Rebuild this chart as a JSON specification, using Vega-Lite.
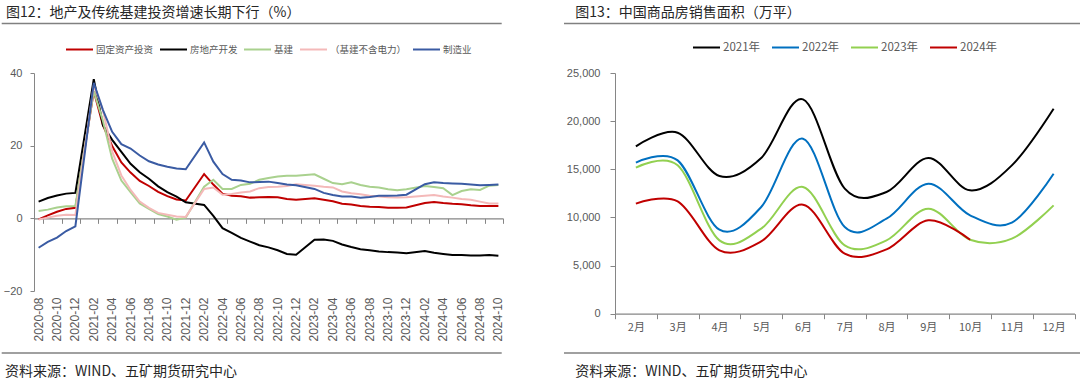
{
  "$schema": "https://vega.github.io/schema/vega-lite/v6.json",
  "background": "white",
  "padding": {"left": 0, "top": 6, "right": 0, "bottom": 0},
  "config": {
    "view": {"stroke": null},
    "font": "Noto Sans CJK SC",
    "legend": {"layout": {"top": {"anchor": "middle"}}}
  },
  "spacing": 8,
  "resolve": {"scale": {"color": "independent", "strokeWidth": "independent"}, "legend": {"color": "independent"}},
  "vconcat": [
    {
      "hconcat": [
        {
          "width": 467.7, "height": 1.5,
          "data": {"values": [{"start": 0, "end": 500, "v": 0}]},
          "mark": {"type": "rule", "color": "#808080", "strokeWidth": 1.5},
          "encoding": {
            "x": {"field": "start", "type": "quantitative", "scale": {"domain": [32.3, 500], "nice": false, "zero": false}, "axis": null},
            "x2": {"field": "end"},
            "y": {"field": "v", "type": "quantitative", "scale": {"domain": [0, 1]}, "axis": null}
          },
          "title": {"text": "图12：地产及传统基建投资增速长期下行（%）", "anchor": "start", "dx": 5, "offset": 2, "fontSize": 14, "fontWeight": "normal", "color": "#262626", "font": "Noto Sans CJK SC"}
        },
        {
          "width": 465, "height": 1.5,
          "data": {"values": [{"start": 0, "end": 520, "v": 0}]},
          "mark": {"type": "rule", "color": "#808080", "strokeWidth": 1.5},
          "encoding": {
            "x": {"field": "start", "type": "quantitative", "scale": {"domain": [55, 520], "nice": false, "zero": false}, "axis": null},
            "x2": {"field": "end"},
            "y": {"field": "v", "type": "quantitative", "scale": {"domain": [0, 1]}, "axis": null}
          },
          "title": {"text": "图13：中国商品房销售面积（万平）", "anchor": "start", "dx": 12, "offset": 2, "fontSize": 14, "fontWeight": "normal", "color": "#262626", "font": "Noto Sans CJK SC"}
        }
      ],
      "spacing": 60
    },
    {
      "hconcat": [
        {
          "width": 469, "height": 218,
          "data": {"values": [
            {"month": "2020-08", "固定资产投资": -0.3, "房地产开发": 4.6, "基建": 2.0, "（基建不含电力）": -0.3, "制造业": -8.1},
            {"month": "2020-09", "固定资产投资": 0.8, "房地产开发": 5.6, "基建": 2.4, "（基建不含电力）": 0.2, "制造业": -6.5},
            {"month": "2020-10", "固定资产投资": 1.8, "房地产开发": 6.3, "基建": 3.0, "（基建不含电力）": 0.7, "制造业": -5.3},
            {"month": "2020-11", "固定资产投资": 2.6, "房地产开发": 6.8, "基建": 3.3, "（基建不含电力）": 1.0, "制造业": -3.5},
            {"month": "2020-12", "固定资产投资": 2.9, "房地产开发": 7.0, "基建": 3.4, "（基建不含电力）": 0.9, "制造业": -2.2},
            {"month": "2021-02", "固定资产投资": 35.0, "房地产开发": 38.3, "基建": 35.0, "（基建不含电力）": 36.6, "制造业": 37.3},
            {"month": "2021-03", "固定资产投资": 25.6, "房地产开发": 25.6, "基建": 26.8, "（基建不含电力）": 29.7, "制造业": 29.8},
            {"month": "2021-04", "固定资产投资": 19.9, "房地产开发": 21.6, "基建": 16.4, "（基建不含电力）": 18.4, "制造业": 23.8},
            {"month": "2021-05", "固定资产投资": 15.4, "房地产开发": 18.3, "基建": 10.4, "（基建不含电力）": 11.8, "制造业": 20.4},
            {"month": "2021-06", "固定资产投资": 12.6, "房地产开发": 15.0, "基建": 7.2, "（基建不含电力）": 7.8, "制造业": 19.2},
            {"month": "2021-07", "固定资产投资": 10.3, "房地产开发": 12.7, "基建": 4.1, "（基建不含电力）": 4.6, "制造业": 17.3},
            {"month": "2021-08", "固定资产投资": 8.9, "房地产开发": 10.9, "基建": 2.6, "（基建不含电力）": 2.9, "制造业": 15.7},
            {"month": "2021-09", "固定资产投资": 7.3, "房地产开发": 8.8, "基建": 1.2, "（基建不含电力）": 1.5, "制造业": 14.8},
            {"month": "2021-10", "固定资产投资": 6.1, "房地产开发": 7.2, "基建": 0.5, "（基建不含电力）": 1.0, "制造业": 14.2},
            {"month": "2021-11", "固定资产投资": 5.2, "房地产开发": 6.0, "基建": -0.4, "（基建不含电力）": 0.5, "制造业": 13.7},
            {"month": "2021-12", "固定资产投资": 4.9, "房地产开发": 4.4, "基建": 0.2, "（基建不含电力）": 0.4, "制造业": 13.5},
            {"month": "2022-02", "固定资产投资": 12.2, "房地产开发": 3.7, "基建": 8.7, "（基建不含电力）": 8.1, "制造业": 20.9},
            {"month": "2022-03", "固定资产投资": 9.3, "房地产开发": 0.7, "基建": 10.6, "（基建不含电力）": 8.5, "制造业": 15.6},
            {"month": "2022-04", "固定资产投资": 6.8, "房地产开发": -2.7, "基建": 8.1, "（基建不含电力）": 6.5, "制造业": 12.2},
            {"month": "2022-05", "固定资产投资": 6.2, "房地产开发": -4.0, "基建": 8.1, "（基建不含电力）": 6.7, "制造业": 10.6},
            {"month": "2022-06", "固定资产投资": 6.1, "房地产开发": -5.4, "基建": 9.2, "（基建不含电力）": 7.1, "制造业": 10.4},
            {"month": "2022-07", "固定资产投资": 5.7, "房地产开发": -6.4, "基建": 9.5, "（基建不含电力）": 7.4, "制造业": 9.9},
            {"month": "2022-08", "固定资产投资": 5.8, "房地产开发": -7.4, "基建": 10.6, "（基建不含电力）": 8.3, "制造业": 10.0},
            {"month": "2022-09", "固定资产投资": 5.9, "房地产开发": -8.0, "基建": 11.1, "（基建不含电力）": 8.6, "制造业": 10.1},
            {"month": "2022-10", "固定资产投资": 5.8, "房地产开发": -8.8, "基建": 11.5, "（基建不含电力）": 8.7, "制造业": 9.7},
            {"month": "2022-11", "固定资产投资": 5.3, "房地产开发": -9.8, "基建": 11.7, "（基建不含电力）": 8.9, "制造业": 9.3},
            {"month": "2022-12", "固定资产投资": 5.1, "房地产开发": -10.0, "基建": 11.7, "（基建不含电力）": 9.4, "制造业": 9.1},
            {"month": "2023-02", "固定资产投资": 5.5, "房地产开发": -5.9, "基建": 12.1, "（基建不含电力）": 9.0, "制造业": 8.1},
            {"month": "2023-03", "固定资产投资": 5.1, "房地产开发": -5.8, "基建": 10.9, "（基建不含电力）": 8.7, "制造业": 7.0},
            {"month": "2023-04", "固定资产投资": 4.7, "房地产开发": -6.2, "基建": 9.7, "（基建不含电力）": 8.5, "制造业": 6.4},
            {"month": "2023-05", "固定资产投资": 4.0, "房地产开发": -7.2, "基建": 9.4, "（基建不含电力）": 7.4, "制造业": 6.0},
            {"month": "2023-06", "固定资产投资": 3.8, "房地产开发": -7.9, "基建": 9.9, "（基建不含电力）": 6.9, "制造业": 6.0},
            {"month": "2023-07", "固定资产投资": 3.4, "房地产开发": -8.5, "基建": 9.2, "（基建不含电力）": 6.6, "制造业": 5.7},
            {"month": "2023-08", "固定资产投资": 3.2, "房地产开发": -8.8, "基建": 8.7, "（基建不含电力）": 6.2, "制造业": 5.9},
            {"month": "2023-09", "固定资产投资": 3.1, "房地产开发": -9.1, "基建": 8.5, "（基建不含电力）": 6.0, "制造业": 6.2},
            {"month": "2023-10", "固定资产投资": 2.9, "房地产开发": -9.3, "基建": 8.0, "（基建不含电力）": 5.8, "制造业": 6.2},
            {"month": "2023-11", "固定资产投资": 2.9, "房地产开发": -9.4, "基建": 7.7, "（基建不含电力）": 5.7, "制造业": 6.3},
            {"month": "2023-12", "固定资产投资": 3.0, "房地产开发": -9.6, "基建": 8.0, "（基建不含电力）": 5.8, "制造业": 6.5},
            {"month": "2024-02", "固定资产投资": 4.2, "房地产开发": -9.0, "基建": 8.9, "（基建不含电力）": 6.2, "制造业": 9.4},
            {"month": "2024-03", "固定资产投资": 4.5, "房地产开发": -9.5, "基建": 8.6, "（基建不含电力）": 6.4, "制造业": 9.9},
            {"month": "2024-04", "固定资产投资": 4.2, "房地产开发": -9.8, "基建": 8.3, "（基建不含电力）": 6.0, "制造业": 9.7},
            {"month": "2024-05", "固定资产投资": 4.0, "房地产开发": -10.1, "基建": 6.4, "（基建不含电力）": 5.7, "制造业": 9.6},
            {"month": "2024-06", "固定资产投资": 3.9, "房地产开发": -10.1, "基建": 7.5, "（基建不含电力）": 5.3, "制造业": 9.5},
            {"month": "2024-07", "固定资产投资": 3.6, "房地产开发": -10.2, "基建": 8.0, "（基建不含电力）": 5.1, "制造业": 9.3},
            {"month": "2024-08", "固定资产投资": 3.4, "房地产开发": -10.2, "基建": 7.8, "（基建不含电力）": 4.6, "制造业": 9.1},
            {"month": "2024-09", "固定资产投资": 3.4, "房地产开发": -10.1, "基建": 9.0, "（基建不含电力）": 4.1, "制造业": 9.2},
            {"month": "2024-10", "固定资产投资": 3.4, "房地产开发": -10.3, "基建": 9.2, "（基建不含电力）": 4.1, "制造业": 9.3}
          ]},
          "transform": [{"fold": ["固定资产投资", "房地产开发", "基建", "（基建不含电力）", "制造业"], "as": ["series", "value"]}],
          "layer": [
            {
              "mark": {"type": "line", "strokeWidth": 2},
              "encoding": {
                "x": {
                  "field": "month", "type": "ordinal",
                  "scale": {"type": "band", "paddingInner": 0, "paddingOuter": 0, "domain": ["2020-08","2020-09","2020-10","2020-11","2020-12","2021-01","2021-02","2021-03","2021-04","2021-05","2021-06","2021-07","2021-08","2021-09","2021-10","2021-11","2021-12","2022-01","2022-02","2022-03","2022-04","2022-05","2022-06","2022-07","2022-08","2022-09","2022-10","2022-11","2022-12","2023-01","2023-02","2023-03","2023-04","2023-05","2023-06","2023-07","2023-08","2023-09","2023-10","2023-11","2023-12","2024-01","2024-02","2024-03","2024-04","2024-05","2024-06","2024-07","2024-08","2024-09","2024-10"]},
                  "axis": {"orient": "bottom", "values": ["2020-08","2020-10","2020-12","2021-02","2021-04","2021-06","2021-08","2021-10","2021-12","2022-02","2022-04","2022-06","2022-08","2022-10","2022-12","2023-02","2023-04","2023-06","2023-08","2023-10","2023-12","2024-02","2024-04","2024-06","2024-08","2024-10"], "title": " ", "titleFontSize": 2, "titlePadding": 0, "ticks": false, "domain": false, "grid": false, "labelAngle": 270, "labelPadding": 6, "labelFontSize": 12, "labelColor": "#595959", "labelFont": "Liberation Sans"}
                },
                "y": {
                  "field": "value", "type": "quantitative",
                  "scale": {"domain": [-20, 40], "nice": false, "zero": false},
                  "axis": {"values": [-20, -10, 0, 10, 20, 30, 40], "title": null, "grid": false, "domainColor": "#868686", "tickColor": "#868686", "tickSize": 4, "labelPadding": 8, "labelFontSize": 11, "labelColor": "#595959", "labelFont": "Liberation Sans"}
                },
                "color": {
                  "field": "series", "type": "nominal",
                  "scale": {"domain": ["固定资产投资", "房地产开发", "基建", "（基建不含电力）", "制造业"], "range": ["#C00000", "#000000", "#A9D18E", "#F4B9B9", "#3A5BA3"]},
                  "legend": {"orient": "top", "direction": "horizontal", "title": null, "symbolType": "stroke", "symbolSize": 729, "symbolStrokeWidth": 2, "labelFontSize": 9.5, "labelColor": "#595959", "labelFont": "Noto Sans CJK SC", "columnPadding": 2, "labelOffset": 2, "offset": 19, "padding": 0}
                }
              }
            },
            {
              "mark": {"type": "point", "opacity": 0},
              "encoding": {
                "x": {"field": "month", "type": "ordinal", "axis": {"orient": "bottom", "offset": -72.667, "values": ["2020-08","2020-10","2020-12","2021-02","2021-04","2021-06","2021-08","2021-10","2021-12","2022-02","2022-04","2022-06","2022-08","2022-10","2022-12","2023-02","2023-04","2023-06","2023-08","2023-10","2023-12","2024-02","2024-04","2024-06","2024-08","2024-10"], "labels": false, "title": null, "grid": false, "tickBand": "extent", "tickSize": 5, "tickColor": "#868686", "domainColor": "#868686", "domainWidth": 1.2}},
                "y": {"datum": 0, "type": "quantitative"}
              }
            }
          ],
          "resolve": {"axis": {"x": "independent"}}
        },
        {
          "width": 459.5, "height": 240.7,
          "data": {"values": [
            {"month": "2月", "2021年": 17382, "2022年": 15685, "2023年": 15166, "2024年": 11427},
            {"month": "3月", "2021年": 18800, "2022年": 15928, "2023年": 15408, "2024年": 11669},
            {"month": "4月", "2021年": 14300, "2022年": 8726, "2023年": 7618, "2024年": 6579},
            {"month": "5月", "2021年": 16170, "2022年": 11080, "2023年": 8830, "2024年": 7514},
            {"month": "6月", "2021年": 22265, "2022年": 18178, "2023年": 13158, "2024年": 11323},
            {"month": "7月", "2021年": 12985, "2022年": 9003, "2023年": 7098, "2024年": 6233},
            {"month": "8月", "2021年": 12638, "2022年": 9868, "2023年": 7618, "2024年": 6683},
            {"month": "9月", "2021年": 16170, "2022年": 13504, "2023年": 10907, "2024年": 9695},
            {"month": "10月", "2021年": 12812, "2022年": 10215, "2023年": 7687, "2024年": 7687},
            {"month": "11月", "2021年": 15408, "2022年": 9453, "2023年": 7791},
            {"month": "12月", "2021年": 21295, "2022年": 14543, "2023年": 11253}
          ]},
          "transform": [{"fold": ["2021年", "2022年", "2023年", "2024年"], "as": ["year", "value"]}],
          "mark": {"type": "line", "interpolate": "cardinal"},
          "encoding": {
            "x": {
              "field": "month", "type": "ordinal",
              "scale": {"type": "band", "paddingInner": 0, "paddingOuter": 0, "domain": ["2月","3月","4月","5月","6月","7月","8月","9月","10月","11月","12月"]},
              "axis": {"title": null, "tickBand": "extent", "tickSize": 5, "tickColor": "#868686", "domainColor": "#868686", "domainWidth": 1.2, "grid": false, "labelAngle": 0, "labelPadding": 3, "labelFontSize": 11, "labelColor": "#595959", "labelFont": "Noto Sans CJK SC"}
            },
            "y": {
              "field": "value", "type": "quantitative",
              "scale": {"domain": [0, 25000], "nice": false},
              "axis": {"values": [0, 5000, 10000, 15000, 20000, 25000], "format": ",.0f", "title": null, "grid": false, "domainColor": "#868686", "tickColor": "#868686", "tickSize": 5, "labelPadding": 10, "labelFontSize": 11, "labelColor": "#595959", "labelFont": "Liberation Sans"}
            },
            "color": {
              "field": "year", "type": "nominal",
              "scale": {"domain": ["2021年", "2022年", "2023年", "2024年"], "range": ["#000000", "#0070C0", "#92D050", "#C00000"]},
              "legend": {"orient": "top", "direction": "horizontal", "title": null, "symbolType": "stroke", "symbolSize": 729, "symbolStrokeWidth": 2.5, "labelFontSize": 11.5, "labelColor": "#595959", "labelFont": "Noto Sans CJK SC", "columnPadding": 7, "labelOffset": 2, "offset": 20, "padding": 0}
            },
            "strokeWidth": {
              "field": "year", "type": "nominal",
              "scale": {"domain": ["2021年", "2022年", "2023年", "2024年"], "range": [2, 2, 2, 3]},
              "legend": null
            }
          }
        }
      ],
      "spacing": 62,
      "resolve": {"scale": {"color": "independent", "strokeWidth": "independent"}, "legend": {"color": "independent"}}
    },
    {
      "hconcat": [
        {
          "width": 467.7, "height": 1.5,
          "data": {"values": [{"start": 0, "end": 500, "v": 1}]},
          "mark": {"type": "rule", "color": "#808080", "strokeWidth": 1.5},
          "encoding": {
            "x": {"field": "start", "type": "quantitative", "scale": {"domain": [32.3, 500], "nice": false, "zero": false}, "axis": null},
            "x2": {"field": "end"},
            "y": {"field": "v", "type": "quantitative", "scale": {"domain": [0, 1]}, "axis": null}
          },
          "title": {"text": "资料来源：WIND、五矿期货研究中心", "orient": "bottom", "anchor": "start", "dx": 4, "offset": 10, "fontSize": 14, "fontWeight": "normal", "color": "#262626", "font": "Noto Sans CJK SC"}
        },
        {
          "width": 465, "height": 1.5,
          "data": {"values": [{"start": 0, "end": 520, "v": 1}]},
          "mark": {"type": "rule", "color": "#808080", "strokeWidth": 1.5},
          "encoding": {
            "x": {"field": "start", "type": "quantitative", "scale": {"domain": [55, 520], "nice": false, "zero": false}, "axis": null},
            "x2": {"field": "end"},
            "y": {"field": "v", "type": "quantitative", "scale": {"domain": [0, 1]}, "axis": null}
          },
          "title": {"text": "资料来源：WIND、五矿期货研究中心", "orient": "bottom", "anchor": "start", "dx": 12, "offset": 10, "fontSize": 14, "fontWeight": "normal", "color": "#262626", "font": "Noto Sans CJK SC"}
        }
      ],
      "spacing": 60
    }
  ]
}
